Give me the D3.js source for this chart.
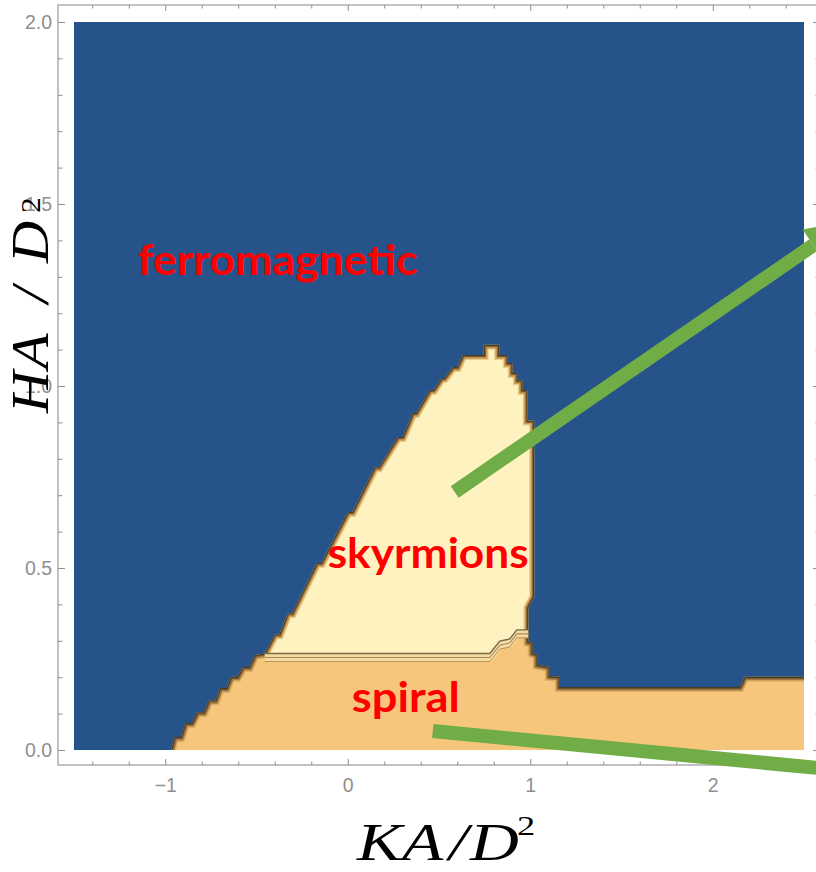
<!DOCTYPE html>
<html>
<head>
<meta charset="utf-8">
<script src="https://cdn.jsdelivr.net/npm/d3@7"></script>
<style>
  body { margin: 0; background: #fff; }
  svg { display: block; }
</style>
</head>
<body>
<svg id="chart" width="816" height="872"></svg>
<script>
// ---- axes ----
const kDomain = [-1.5, 2.5];
const hDomain = [0, 2];
const kMajorTicks = [-1, 0, 1, 2];
const kMinorTicks = [-1.4, -1.2, -0.8, -0.6, -0.4, -0.2, 0.2, 0.4, 0.6, 0.8, 1.2, 1.4, 1.6, 1.8, 2.2, 2.4];
const hMajorTicks = [0, 0.5, 1, 1.5, 2];
const hMinorTicks = [0.1, 0.2, 0.3, 0.4, 0.6, 0.7, 0.8, 0.9, 1.1, 1.2, 1.3, 1.4, 1.6, 1.7, 1.8, 1.9];

// ---- phase boundaries, [K A/D^2, H A/D^2] ----
// skyrmion / ferromagnet boundary, left foot -> over the dome -> right foot
const skyrmionEdge = [
  [-0.455, 0.265], [-0.40, 0.318], [-0.375, 0.318],
  [-0.33, 0.376], [-0.305, 0.376],
  [-0.17, 0.514], [-0.145, 0.514],
  [0.0, 0.654], [0.025, 0.654],
  [0.148, 0.777], [0.17, 0.777],
  [0.274, 0.860], [0.30, 0.860],
  [0.356, 0.926], [0.375, 0.926],
  [0.449, 0.989], [0.47, 0.989],
  [0.515, 1.022], [0.53, 1.022],
  [0.575, 1.052], [0.60, 1.052],
  [0.630, 1.085], [0.745, 1.085],
  [0.745, 1.113], [0.83, 1.113],
  [0.83, 1.085], [0.877, 1.085],
  [0.877, 1.063], [0.904, 1.063],
  [0.904, 1.036], [0.932, 1.036],
  [0.932, 1.016], [0.959, 1.016],
  [0.959, 0.989], [0.986, 0.989],
  [0.986, 0.905], [1.022, 0.905],
  [1.022, 0.42], [0.99, 0.39], [0.99, 0.33]
];
// skyrmion / spiral boundary
const skyrmionBase = [
  [-0.455, 0.265], [0.778, 0.265], [0.833, 0.299], [0.888, 0.305], [0.926, 0.330], [0.99, 0.33]
];
// spiral / ferromagnet boundary, left of the skyrmion pocket
const spiralLeftEdge = [
  [-0.968, 0.0],
  [-0.95, 0.036], [-0.915, 0.036],
  [-0.89, 0.074], [-0.855, 0.074],
  [-0.825, 0.104], [-0.79, 0.104],
  [-0.76, 0.137], [-0.725, 0.137],
  [-0.70, 0.170], [-0.665, 0.170],
  [-0.64, 0.201], [-0.605, 0.201],
  [-0.575, 0.228], [-0.54, 0.228],
  [-0.51, 0.261], [-0.455, 0.265]
];
// spiral / ferromagnet boundary, right of the skyrmion pocket
const spiralRightEdge = [
  [0.99, 0.33], [0.99, 0.297], [1.014, 0.294], [1.014, 0.266],
  [1.041, 0.261], [1.041, 0.234], [1.107, 0.228], [1.107, 0.203],
  [1.162, 0.201], [1.162, 0.173], [2.148, 0.173], [2.175, 0.201], [2.5, 0.201]
];

// ---- annotations ----
const phaseNames = ["ferromagnetic", "skyrmions", "spiral"];
const phaseAnchors = [[-1.151, 1.305], [-0.110, 0.5], [0.022, 0.104]];
const pointerLines = [
  { from: [0.586, 0.709], to: [2.551, 1.387], head: true },
  { from: [0.466, 0.052], to: [2.86, -0.063], head: false }
];

// ---- colours ----
const colFerro = "#25538a";
const colSky = "#fff2c1";
const colSpiral = "#f5c67b";
const colPointer = "#70ad47";
const colAxis = "#8f8f8f";

const svg = d3.select("#chart");
const x = d3.scaleLinear().domain(kDomain).range([74, 804]);
const y = d3.scaleLinear().domain(hDomain).range([750, 22]);
const line = d3.line().x(d => x(d[0])).y(d => y(d[1]));

const defs = svg.append("defs");
defs.append("filter").attr("id", "soft")
  .attr("x", "-5%").attr("y", "-5%").attr("width", "110%").attr("height", "110%")
  .append("feGaussianBlur").attr("stdDeviation", 0.55);

// ---- phase regions ----
const plot = svg.append("g");
plot.append("rect")
  .attr("x", x(kDomain[0])).attr("y", y(hDomain[1]))
  .attr("width", x(kDomain[1]) - x(kDomain[0]))
  .attr("height", y(hDomain[0]) - y(hDomain[1]))
  .attr("fill", colFerro);

const spiralPoly = spiralLeftEdge
  .concat(skyrmionBase.slice(1))
  .concat(spiralRightEdge.slice(1))
  .concat([[kDomain[1], 0]]);
const skyPoly = skyrmionEdge.concat(skyrmionBase.slice().reverse());

defs.append("clipPath").attr("id", "clipSpiral")
  .append("path").attr("d", line(spiralPoly) + "Z");
defs.append("clipPath").attr("id", "clipSky")
  .append("path").attr("d", line(skyPoly) + "Z");

plot.append("path").attr("d", line(spiralPoly) + "Z").attr("fill", colSpiral);

// contour shading along the spiral / ferromagnet edges
const spiralBands = plot.append("g").attr("clip-path", "url(#clipSpiral)")
  .append("g").attr("filter", "url(#soft)");
[[10, "#ddb068"], [7, "#a57a42"], [4.2, "#7a5a34"], [2.2, "#4c3a22"]].forEach(([w, c]) => {
  [spiralLeftEdge, spiralRightEdge].forEach(edge => {
    spiralBands.append("path").attr("d", line(edge))
      .attr("fill", "none").attr("stroke", c).attr("stroke-width", w)
      .attr("stroke-linejoin", "miter");
  });
});
// thin contour lines just under the skyrmion pocket
const baseBands = plot.append("g").attr("clip-path", "url(#clipSpiral)");
baseBands.append("path").attr("d", line(skyrmionBase))
  .attr("transform", "translate(0,4)")
  .attr("fill", "none").attr("stroke", "#f4dba2").attr("stroke-width", 8);
[[4, "#a98b5a", 1.1], [8, "#bb9152", 1.0]].forEach(([dy, c, w]) => {
  baseBands.append("path").attr("d", line(skyrmionBase))
    .attr("transform", `translate(0,${dy})`)
    .attr("fill", "none").attr("stroke", c).attr("stroke-width", w);
});

plot.append("path").attr("d", line(skyPoly) + "Z").attr("fill", colSky);

// contour shading along the skyrmion / ferromagnet edge
const skyBands = plot.append("g").attr("clip-path", "url(#clipSky)")
  .append("g").attr("filter", "url(#soft)");
[[10, "#e9cf8c"], [7.5, "#c99a52"], [4.6, "#8a6638"], [2.4, "#4c3a22"]].forEach(([w, c]) => {
  skyBands.append("path").attr("d", line(skyrmionEdge))
    .attr("fill", "none").attr("stroke", c).attr("stroke-width", w)
    .attr("stroke-linejoin", "miter");
});
plot.append("path").attr("d", line(skyrmionBase))
  .attr("fill", "none").attr("stroke", "#7b6846").attr("stroke-width", 1.4);

// ---- frame and ticks ----
const frame = { left: 58, right: 820, top: 5, bottom: 765 };
svg.append("rect")
  .attr("x", frame.left).attr("y", frame.top)
  .attr("width", frame.right - frame.left).attr("height", frame.bottom - frame.top)
  .attr("fill", "none").attr("stroke", "#9a9a9a").attr("stroke-width", 1.2);

function styleAxis(g) {
  g.select(".domain").remove();
  g.selectAll(".tick line").attr("stroke", colAxis).attr("stroke-width", 1);
  g.selectAll(".tick text")
    .attr("fill", colAxis)
    .attr("font-family", "'Liberation Sans', Arial, sans-serif")
    .attr("font-size", 19.5);
}

const axes = svg.append("g");
axes.append("g").attr("transform", `translate(0,${frame.bottom})`)
  .call(d3.axisBottom(x).tickValues(kMajorTicks).tickSize(-6).tickPadding(13).tickFormat(d3.format("d")))
  .call(styleAxis);
axes.append("g").attr("transform", `translate(0,${frame.bottom})`)
  .call(d3.axisBottom(x).tickValues(kMinorTicks).tickSize(-3.5).tickFormat(""))
  .call(styleAxis);
axes.append("g").attr("transform", `translate(0,${frame.top})`)
  .call(d3.axisTop(x).tickValues(kMajorTicks).tickSize(-6).tickFormat(""))
  .call(styleAxis);
axes.append("g").attr("transform", `translate(0,${frame.top})`)
  .call(d3.axisTop(x).tickValues(kMinorTicks).tickSize(-3.5).tickFormat(""))
  .call(styleAxis);
axes.append("g").attr("transform", `translate(${frame.left},0)`)
  .call(d3.axisLeft(y).tickValues(hMajorTicks).tickSize(-7).tickPadding(6).tickFormat(d3.format(".1f")))
  .call(styleAxis);
axes.append("g").attr("transform", `translate(${frame.left},0)`)
  .call(d3.axisLeft(y).tickValues(hMinorTicks).tickSize(-4.5).tickFormat(""))
  .call(styleAxis);
axes.append("g").attr("transform", `translate(${frame.right},0)`)
  .call(d3.axisRight(y).tickValues(hMajorTicks).tickSize(-7).tickFormat(""))
  .call(styleAxis);
axes.append("g").attr("transform", `translate(${frame.right},0)`)
  .call(d3.axisRight(y).tickValues(hMinorTicks).tickSize(-4.5).tickFormat(""))
  .call(styleAxis);

// ---- axis titles (wide math-italic letters) ----
const mathFont = "'Liberation Serif', 'Times New Roman', serif";
const xWiden = 1.3;
const xTitle = svg.append("text")
  .attr("transform", `translate(357,860) scale(${xWiden},1)`)
  .attr("font-family", mathFont).attr("font-size", 52).attr("fill", "#000");
[["K", 0], ["A", 45], ["/", 92], ["D", 113]].forEach(([t, off]) => {
  xTitle.append("tspan").attr("x", off / xWiden).attr("y", 0).attr("font-style", "italic").text(t);
});
xTitle.append("tspan").attr("x", 160 / xWiden).attr("y", -25).attr("font-size", 28).text("2");

const yWiden = 1.12;
const yTitle = svg.append("text")
  .attr("transform", `translate(48,413) rotate(-90) scale(${yWiden},1)`)
  .attr("font-family", mathFont).attr("font-size", 52).attr("fill", "#000");
[["H", 0], ["A", 44], ["/", 110], ["D", 150]].forEach(([t, off]) => {
  yTitle.append("tspan").attr("x", off / yWiden).attr("y", 0)
    .attr("font-style", "italic").text(t);
});
yTitle.append("tspan").attr("x", 200 / yWiden).attr("y", -8).attr("font-size", 28).text("2");

// ---- phase names ----
const nameWidths = [280, 201, 108];
svg.append("g").selectAll("text").data(phaseNames).join("text")
  .attr("x", (d, i) => x(phaseAnchors[i][0]))
  .attr("y", (d, i) => y(phaseAnchors[i][1]))
  .attr("font-family", "Lato, 'Open Sans', sans-serif")
  .attr("font-weight", 700)
  .attr("font-size", 42)
  .attr("fill", "#ff0000")
  .attr("textLength", (d, i) => nameWidths[i])
  .attr("lengthAdjust", "spacingAndGlyphs")
  .text(d => d);

// ---- green pointers ----
const pointers = svg.append("g");
pointerLines.forEach(p => {
  const x0 = x(p.from[0]), y0 = y(p.from[1]);
  const x1 = x(p.to[0]), y1 = y(p.to[1]);
  pointers.append("line")
    .attr("x1", x0).attr("y1", y0).attr("x2", x1).attr("y2", y1)
    .attr("stroke", colPointer).attr("stroke-width", 14);
  if (p.head) {
    const len = Math.hypot(x1 - x0, y1 - y0);
    const ux = (x1 - x0) / len, uy = (y1 - y0) / len;
    const nx = -uy, ny = ux;
    const hw = 19, hl = 42;
    const pts = [
      [x1 + nx * hw, y1 + ny * hw],
      [x1 + ux * hl, y1 + uy * hl],
      [x1 - nx * hw, y1 - ny * hw]
    ];
    pointers.append("path").attr("d", "M" + pts.map(q => q.join(",")).join("L") + "Z")
      .attr("fill", colPointer);
  }
});
</script>
</body>
</html>
